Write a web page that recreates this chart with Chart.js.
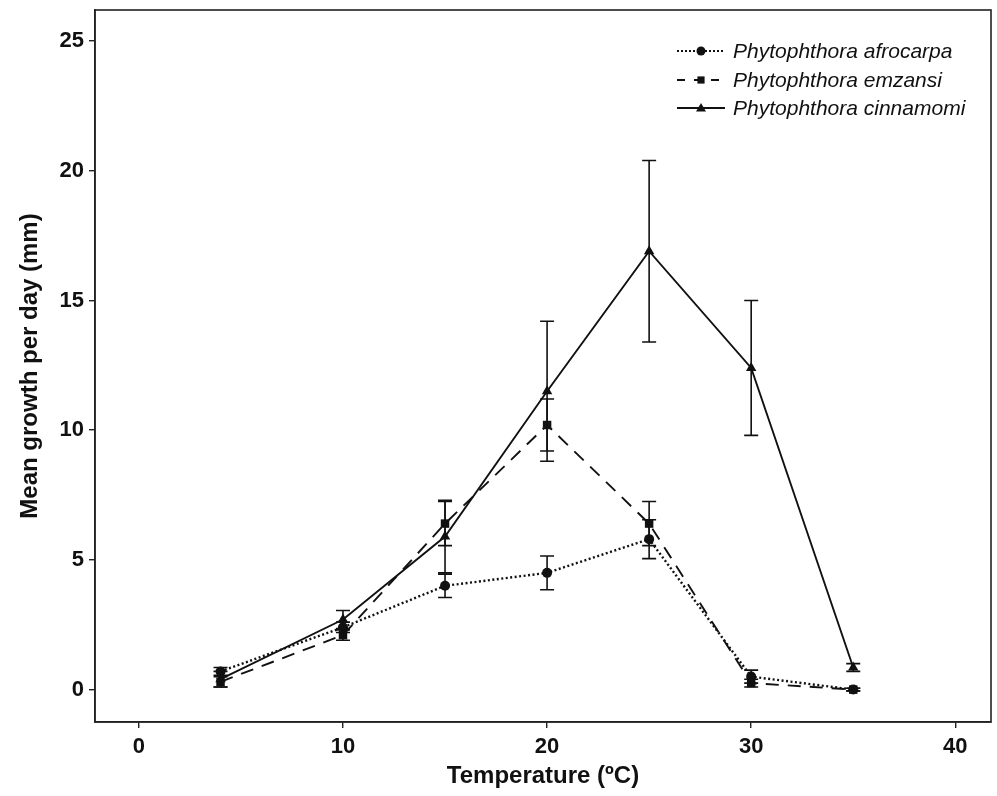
<!DOCTYPE html>
<html>
<head>
<meta charset="utf-8">
<title>Mean growth per day</title>
<script src="https://cdn.jsdelivr.net/npm/chart.js@4/dist/chart.umd.min.js"></script>
<style>
  html, body { margin: 0; padding: 0; background: #fff; }
  #chart { display: block; }
</style>
</head>
<body>
<canvas id="chart" width="997" height="796"></canvas>
<script>
// Data
const temps = [4, 10, 15, 20, 25, 30, 35];
const afrocarpa = [0.7, 2.4, 4.0, 4.5, 5.8, 0.5, 0.0];
const afrocarpaErr = [0.15, 0.2, 0.45, 0.65, 0.75, 0.25, 0.05];
const emzansi = [0.3, 2.1, 6.4, 10.2, 6.4, 0.25, 0.0];
const emzansiErr = [0.2, 0.2, 0.85, 1.0, 0.85, 0.15, 0.05];
const cinnamomi = [0.4, 2.7, 5.9, 11.5, 16.9, 12.4, 0.85];
const cinnamomiErr = [0.3, 0.35, 1.4, 2.7, 3.5, 2.6, 0.15];
const xTicks = [0, 10, 20, 30, 40];
const yTicks = [0, 5, 10, 15, 20, 25];
const seriesNames = ["Phytophthora afrocarpa", "Phytophthora emzansi", "Phytophthora cinnamomi"];

const ink = "#111";

function points(ys) {
  return temps.map((t, i) => ({ x: t, y: ys[i] }));
}

const series = [
  { name: seriesNames[0], values: afrocarpa, err: afrocarpaErr, dash: [2, 2.5], style: "circle", radius: 5 },
  { name: seriesNames[1], values: emzansi, err: emzansiErr, dash: [13, 9], style: "rect", radius: 6 },
  { name: seriesNames[2], values: cinnamomi, err: cinnamomiErr, dash: [], style: "triangle", radius: 6 }
];

// error bars drawn through the chart scales
const errorBars = {
  id: "errorBars",
  afterDatasetsDraw(chart) {
    const { ctx, scales: { x, y } } = chart;
    ctx.save();
    ctx.strokeStyle = ink;
    ctx.lineWidth = 1.6;
    ctx.setLineDash([]);
    series.forEach((s) => {
      temps.forEach((t, i) => {
        const px = x.getPixelForValue(t);
        const top = y.getPixelForValue(s.values[i] + s.err[i]);
        const bot = y.getPixelForValue(s.values[i] - s.err[i]);
        ctx.beginPath();
        ctx.moveTo(px, top); ctx.lineTo(px, bot);
        ctx.moveTo(px - 7, top); ctx.lineTo(px + 7, top);
        ctx.moveTo(px - 7, bot); ctx.lineTo(px + 7, bot);
        ctx.stroke();
      });
    });
    ctx.restore();
  }
};

function drawMarker(ctx, style, cx, cy, r) {
  ctx.beginPath();
  if (style === "circle") {
    ctx.arc(cx, cy, r, 0, Math.PI * 2);
  } else if (style === "rect") {
    ctx.rect(cx - r * 0.8, cy - r * 0.8, r * 1.6, r * 1.6);
  } else {
    ctx.moveTo(cx, cy - r);
    ctx.lineTo(cx + r, cy + r * 0.7);
    ctx.lineTo(cx - r, cy + r * 0.7);
    ctx.closePath();
  }
  ctx.fill();
}

// frame + legend inside the plot
const frameAndLegend = {
  id: "frameAndLegend",
  afterDraw(chart) {
    const { ctx, chartArea: a } = chart;
    ctx.save();
    ctx.strokeStyle = "#222";
    ctx.lineWidth = 1.6;
    ctx.setLineDash([]);
    ctx.strokeRect(a.left, a.top, a.right - a.left, a.bottom - a.top);

    const rows = [51, 80, 108];
    ctx.font = "italic 21px 'Liberation Sans', Arial, sans-serif";
    ctx.textBaseline = "middle";
    ctx.fillStyle = ink;
    series.forEach((s, i) => {
      const yy = rows[i];
      ctx.strokeStyle = ink;
      ctx.lineWidth = 2.2;
      ctx.setLineDash(s.dash.length ? (i === 1 ? [8, 9] : [2, 2]) : []);
      ctx.lineDashOffset = 0;
      ctx.beginPath();
      ctx.moveTo(677, yy); ctx.lineTo(725, yy);
      ctx.stroke();
      ctx.setLineDash([]);
      drawMarker(ctx, s.style, 701, yy, s.style === "triangle" ? 5 : 4.5);
      ctx.fillText(s.name, 733, yy + 1);
    });
    ctx.restore();
  }
};

new Chart(document.getElementById("chart"), {
  type: "scatter",
  data: {
    datasets: series.map((s) => ({
      label: s.name,
      data: points(s.values),
      showLine: true,
      borderColor: ink,
      backgroundColor: ink,
      borderWidth: s.dash.length && s.dash[0] < 3 ? 2.4 : 1.9,
      borderDash: s.dash,
      pointStyle: s.style,
      pointRadius: s.radius,
      pointBorderWidth: 0,
      pointBackgroundColor: ink,
      tension: 0
    }))
  },
  plugins: [errorBars, frameAndLegend],
  options: {
    responsive: false,
    animation: false,
    devicePixelRatio: 1,
    layout: { padding: { top: 10, right: 3, left: 0, bottom: 0 } },
    plugins: {
      legend: { display: false },
      tooltip: { enabled: false }
    },
    scales: {
      x: {
        type: "linear",
        min: -2.15,
        max: 41.75,
        afterBuildTicks: (s) => { s.ticks = xTicks.map((v) => ({ value: v })); },
        afterFit: (s) => { s.height = 74; s.paddingLeft = 0; s.paddingRight = 0; },
        grid: { drawOnChartArea: false, drawTicks: true, tickLength: 6, color: "#222", lineWidth: 1.4 },
        border: { display: true, color: "#222", width: 1.6 },
        ticks: {
          color: ink,
          padding: 6,
          font: { family: "'Liberation Sans', Arial, sans-serif", size: 22, weight: "bold" }
        },
        title: {
          display: true,
          text: "Temperature (ºC)",
          color: ink,
          padding: { top: 0, bottom: 5 },
          font: { family: "'Liberation Sans', Arial, sans-serif", size: 24, weight: "bold" }
        }
      },
      y: {
        type: "linear",
        min: -1.25,
        max: 26.2,
        afterBuildTicks: (s) => { s.ticks = yTicks.map((v) => ({ value: v })); },
        afterFit: (s) => { s.width = 95; s.paddingTop = 0; s.paddingBottom = 0; },
        grid: { drawOnChartArea: false, drawTicks: true, tickLength: 6, color: "#222", lineWidth: 1.4 },
        border: { display: true, color: "#222", width: 1.6 },
        ticks: {
          color: ink,
          padding: 5,
          font: { family: "'Liberation Sans', Arial, sans-serif", size: 22, weight: "bold" }
        },
        title: {
          display: true,
          text: "Mean growth per day (mm)",
          color: ink,
          padding: { top: 16, bottom: 0 },
          font: { family: "'Liberation Sans', Arial, sans-serif", size: 24, weight: "bold" }
        }
      }
    }
  }
});
</script>
</body>
</html>
